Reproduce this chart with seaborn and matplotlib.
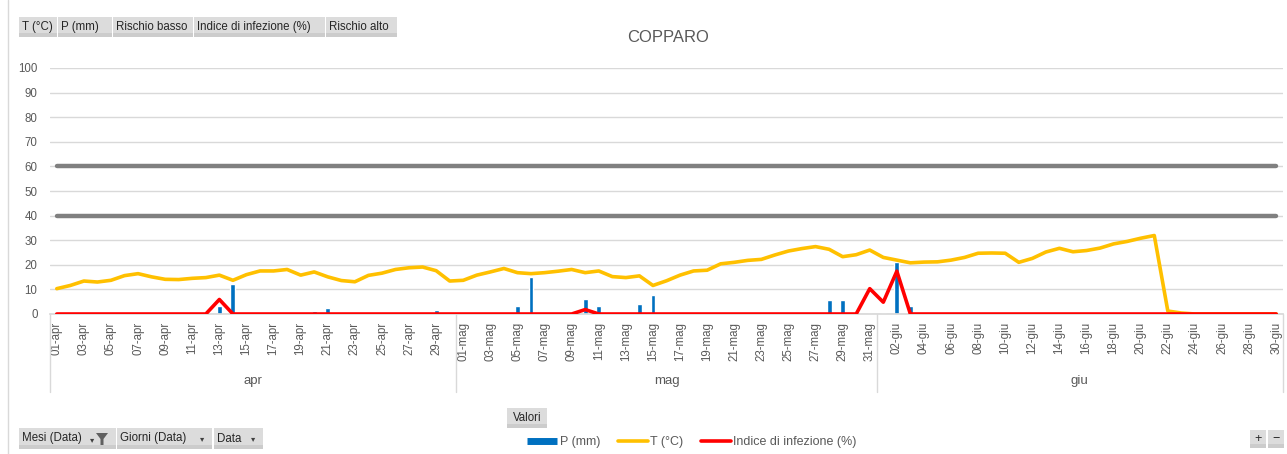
import numpy as np
import pandas as pd
import matplotlib
matplotlib.use("Agg")
import matplotlib.pyplot as plt
import seaborn as sns
from matplotlib.patches import Rectangle, Polygon
from matplotlib.lines import Line2D
from matplotlib.transforms import blended_transform_factory

# ---------------- data ----------------
months = ["apr", "mag", "giu"]
month_days = [30, 31, 30]

T_apr = [10.3, 11.6, 13.4, 13.0, 13.7, 15.6, 16.4, 15.1, 14.1, 14.0,
         14.5, 14.8, 15.8, 13.7, 16.0, 17.5, 17.5, 18.1, 15.8, 17.1,
         15.1, 13.6, 13.1, 15.7, 16.6, 18.1, 18.8, 19.1, 17.6, 13.4]
T_mag = [13.7, 15.8, 17.1, 18.5, 16.8, 16.4, 16.8, 17.4, 18.1, 16.8,
         17.5, 15.2, 14.8, 15.5, 11.6, 13.5, 15.8, 17.5, 17.8, 20.4,
         21.0, 21.8, 22.2, 24.0, 25.6, 26.6, 27.4, 26.3, 23.3, 24.1, 26.0]
T_giu = [23.0, 21.9, 20.8, 21.1, 21.2, 21.9, 23.0, 24.7, 24.8, 24.7,
         21.0, 22.6, 25.2, 26.7, 25.3, 25.8, 26.8, 28.5, 29.5, 30.8,
         31.9, 1.2, 0.4, 0.0, 0.0, 0.0, 0.0, 0.0, 0.0, 0.0]

rain_days = ["13-apr", "14-apr", "20-apr", "21-apr", "29-apr",
             "05-mag", "06-mag", "10-mag", "11-mag", "14-mag", "15-mag",
             "16-mag", "28-mag", "29-mag", "01-giu", "02-giu", "03-giu"]
rain_mm = [3.2, 12.2, 1.1, 2.3, 1.5,
           3.1, 15.1, 6.0, 3.1, 4.2, 7.6,
           1.0, 5.7, 5.7, 0.3, 21.0, 3.2]

infection_days = ["13-apr", "10-mag", "31-mag", "01-giu", "02-giu"]
infection_vals = [5.9, 1.8, 10.3, 4.8, 17.4]

risk_low = 40
risk_high = 60

labels = [f"{d:02d}-{m}" for m, n in zip(months, month_days) for d in range(1, n + 1)]
month_of = [m for m, n in zip(months, month_days) for _ in range(n)]
df = pd.DataFrame({"label": labels, "month": month_of})
df["pos"] = np.arange(len(df))
df["T"] = T_apr + T_mag + T_giu
df["P"] = df["label"].map(dict(zip(rain_days, rain_mm))).fillna(0.0)
df["I"] = df["label"].map(dict(zip(infection_days, infection_vals))).fillna(0.0)
df["low"] = risk_low
df["high"] = risk_high

# ---------------- style ----------------
sns.set_theme(style="white")
plt.rcParams["font.family"] = ["Liberation Sans", "DejaVu Sans"]

W, H = 1287, 454
fig = plt.figure(figsize=(W / 100, H / 100), dpi=100)
fig.patch.set_facecolor("white")


def fx(x):
    return x / W


def fy(y):
    return 1 - y / H


ax = fig.add_axes([fx(50), fy(314), (1283 - 50) / W, (314 - 68) / H])

BLUE, YELLOW, RED, GRAY = "#0070C0", "#FFC000", "#FF0000", "#808080"
TXT = "#595959"

sns.barplot(data=df, x="pos", y="P", native_scale=True, width=0.36,
            color=BLUE, saturation=1, ax=ax, zorder=2)
sns.lineplot(data=df, x="pos", y="T", color=YELLOW, lw=2.6, ax=ax,
             zorder=3, errorbar=None)
sns.lineplot(data=df, x="pos", y="low", color=GRAY, lw=3.2, ax=ax,
             zorder=4, errorbar=None, solid_capstyle="round")
sns.lineplot(data=df, x="pos", y="I", color=RED, lw=2.6, ax=ax,
             zorder=5, errorbar=None)
sns.lineplot(data=df, x="pos", y="high", color=GRAY, lw=3.2, ax=ax,
             zorder=6, errorbar=None, solid_capstyle="round")

n = len(df)
ax.set_xlim(-0.5, n - 0.5)
ax.set_ylim(0, 100)
ax.set_yticks(range(0, 101, 10))
ax.yaxis.grid(True, color="#D9D9D9", lw=1)
ax.xaxis.grid(False)
ax.set_axisbelow(True)
for s in ["left", "right", "top"]:
    ax.spines[s].set_visible(False)
ax.spines["bottom"].set_color("#D9D9D9")
ax.set_xlabel("")
ax.set_ylabel("")
ax.tick_params(axis="y", length=0, pad=9, labelsize=8.3, labelcolor=TXT)
ax.set_xticks(df["pos"][::2])
ax.set_xticklabels(df["label"][::2], rotation=90, fontsize=8.3, color=TXT)
ax.tick_params(axis="x", length=0, pad=5.5)

# multi-level category axis: separators and month labels
btr = blended_transform_factory(ax.transData, fig.transFigure)
edges = np.concatenate([[0], np.cumsum(month_days)]) - 0.5
for e in edges:
    ax.add_line(Line2D([e, e], [fy(314), fy(392)], transform=btr,
                       color="#D9D9D9", lw=1, clip_on=False))
for m, a, b in zip(months, edges[:-1], edges[1:]):
    ax.text((a + b) / 2, fy(381), m, transform=btr, ha="center",
            va="center", fontsize=9.5, color=TXT)

# title
fig.text(fx(668), fy(37), "COPPARO", ha="center", va="center",
         fontsize=12, color=TXT)

# chart frame line on the left
fig.add_artist(Line2D([fx(7.5), fx(7.5)], [0, 1], transform=fig.transFigure,
                      color="#D9D9D9", lw=1))


def button(x0, y0, x1, y1, text, fs=8.3, ha="left"):
    fig.add_artist(Rectangle((fx(x0), fy(y1)), (x1 - x0) / W, (y1 - y0) / H,
                             transform=fig.transFigure, facecolor="#DCDCDC",
                             edgecolor="none"))
    fig.add_artist(Rectangle((fx(x0), fy(y1)), (x1 - x0) / W, 4 / H,
                             transform=fig.transFigure, facecolor="#CCCCCC",
                             edgecolor="none"))
    if ha == "left":
        fig.text(fx(x0 + 3), fy((y0 + y1) / 2), text, ha="left", va="center",
                 fontsize=fs, color="#262626")
    else:
        fig.text(fx((x0 + x1) / 2), fy((y0 + y1) / 2), text, ha="center",
                 va="center", fontsize=fs, color="#262626")


# top field buttons
top_buttons = [(19, 57, "T (°C)"), (58, 112, "P (mm)"), (113, 193, "Rischio basso"),
               (194, 325, "Indice di infezione (%)"), (326, 397, "Rischio alto")]
for x0, x1, t in top_buttons:
    button(x0, 17, x1, 37, t)

# bottom-left field buttons
button(19, 428, 116, 449, "Mesi (Data)")
button(117, 428, 212, 449, "Giorni (Data)")
button(214, 428, 263, 449, "Data")
fig.text(fx(92), fy(440), "▾", fontsize=6, color="#404040", ha="center", va="center",
         family=["DejaVu Sans"])
fig.add_artist(Polygon([[fx(96), fy(433)], [fx(108), fy(433)], [fx(103.5), fy(439)],
                        [fx(103.5), fy(445)], [fx(100.5), fy(445)], [fx(100.5), fy(439)]],
                       closed=True, transform=fig.transFigure, facecolor="#606060",
                       edgecolor="none"))
fig.text(fx(202), fy(438.5), "▾", fontsize=6, color="#404040", ha="center", va="center",
         family=["DejaVu Sans"])
fig.text(fx(253), fy(438.5), "▾", fontsize=6, color="#404040", ha="center", va="center",
         family=["DejaVu Sans"])

# "Valori" button
button(507, 408, 547, 428, "Valori", ha="center")

# zoom buttons
button(1250, 430, 1266, 448, "+", fs=9, ha="center")
button(1268, 430, 1284, 448, "−", fs=9, ha="center")

# legend
handles = [Line2D([], [], color=BLUE, lw=5, solid_capstyle="butt"),
           Line2D([], [], color=YELLOW, lw=2.6),
           Line2D([], [], color=RED, lw=2.6)]
fig.legend(handles, ["P (mm)", "T (°C)", "Indice di infezione (%)"], ncol=3,
           loc="center", bbox_to_anchor=(fx(692), fy(442)), frameon=False,
           fontsize=9, handlelength=2.4, handletextpad=0.2, columnspacing=1.4,
           labelcolor=TXT, borderpad=0, borderaxespad=0)

fig.savefig("out.png", dpi=100)
